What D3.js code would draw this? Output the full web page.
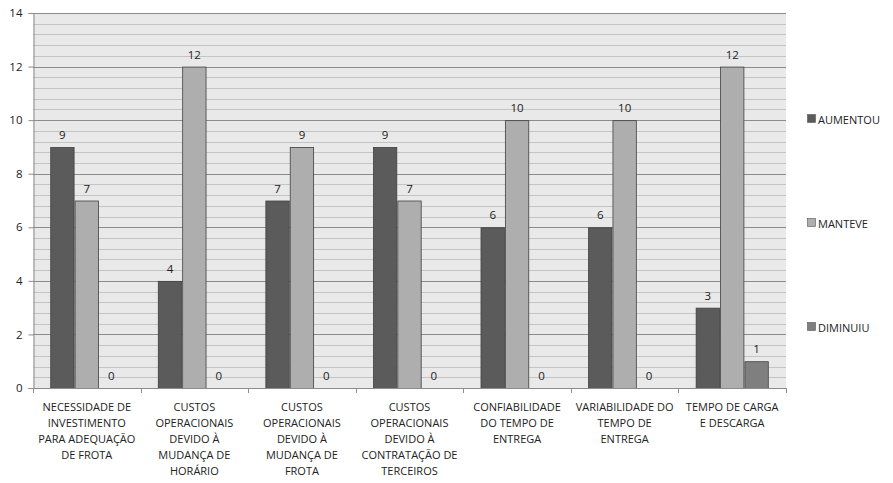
<!DOCTYPE html>
<html><head><meta charset="utf-8">
<script src="https://cdn.jsdelivr.net/npm/d3@7/dist/d3.min.js"></script>
<style>
body{margin:0;background:#fff;}
text{font-family:"Open Sans","DejaVu Sans",sans-serif;fill:#222;}
</style></head>
<body><svg id="c" width="893" height="483"></svg>
<script>
const categories = [
  ["NECESSIDADE DE","INVESTIMENTO","PARA ADEQUAÇÃO","DE FROTA"],
  ["CUSTOS","OPERACIONAIS","DEVIDO À","MUDANÇA DE","HORÁRIO"],
  ["CUSTOS","OPERACIONAIS","DEVIDO À","MUDANÇA DE","FROTA"],
  ["CUSTOS","OPERACIONAIS","DEVIDO À","CONTRATAÇÃO DE","TERCEIROS"],
  ["CONFIABILIDADE","DO TEMPO DE","ENTREGA"],
  ["VARIABILIDADE DO","TEMPO DE","ENTREGA"],
  ["TEMPO DE CARGA","E DESCARGA"]
];
const seriesNames = ["AUMENTOU","MANTEVE","DIMINUIU"];
const aumentou = [9,4,7,9,6,6,3];
const manteve  = [7,12,9,7,10,10,12];
const diminuiu = [0,0,0,0,0,0,1];
const yTicks = [0,2,4,6,8,10,12,14];
const colors = ["#5b5b5b","#aeaeae","#7f7f7f"];

const series = [aumentou, manteve, diminuiu];
const svg = d3.select("#c");
const L=33, R=786, T=13, B=388;
const x = d3.scaleBand().domain(d3.range(categories.length)).range([L,R]).paddingInner(0).paddingOuter(0);
const y = d3.scaleLinear().domain([0,14]).range([B,T]);
const bw = x.bandwidth()*0.68;
const xs = d3.scaleBand().domain(d3.range(3)).range([0,bw]);

svg.append("rect").attr("x",L).attr("y",T).attr("width",R-L).attr("height",B-T).attr("fill","#e9e9e9");
const minor = d3.range(0,14.001,0.4);
svg.append("g").selectAll("line").data(minor).join("line")
  .attr("x1",L).attr("x2",R).attr("y1",d=>Math.round(y(d))+0.5).attr("y2",d=>Math.round(y(d))+0.5)
  .attr("stroke","#c4c4c4").attr("stroke-width",1);
svg.append("g").selectAll("line").data(yTicks).join("line")
  .attr("x1",L).attr("x2",R).attr("y1",d=>Math.round(y(d))+0.5).attr("y2",d=>Math.round(y(d))+0.5)
  .attr("stroke","#8c8c8c").attr("stroke-width",1);

const g = svg.append("g");
categories.forEach((c,i)=>{
  const x0 = x(i) + (x.bandwidth()-bw)/2;
  series.forEach((s,j)=>{
    const v = s[i];
    const bx = x0 + xs(j);
    if (v>0) g.append("rect").attr("x",bx+0.5).attr("y",y(v)+0.5).attr("width",xs.bandwidth()-1).attr("height",y(0)-y(v))
      .attr("fill",colors[j]).attr("stroke","#404040").attr("stroke-width",0.8);
    g.append("text").attr("x",bx+xs.bandwidth()/2).attr("y",y(v)-8).attr("text-anchor","middle")
      .attr("font-size",11.5).text(v);
  });
});

const ya = d3.axisLeft(y).tickValues(yTicks).tickSize(5).tickPadding(6);
svg.append("g").attr("transform",`translate(${L+0.5},0)`).call(ya)
  .call(g=>g.select(".domain").attr("stroke","#8c8c8c"))
  .call(g=>g.selectAll(".tick line").attr("stroke","#8c8c8c"))
  .call(g=>g.selectAll(".tick text").attr("font-size",11.5).attr("fill","#222").attr("font-family","'Open Sans',sans-serif"));
svg.append("line").attr("x1",L).attr("x2",R).attr("y1",B+0.5).attr("y2",B+0.5).attr("stroke","#8c8c8c");
svg.append("g").selectAll("line").data(d3.range(categories.length+1)).join("line")
  .attr("x1",d=>Math.round(L+d*x.step())+0.5).attr("x2",d=>Math.round(L+d*x.step())+0.5)
  .attr("y1",B).attr("y2",B+5).attr("stroke","#8c8c8c");

categories.forEach((c,i)=>{
  const t = svg.append("text").attr("text-anchor","middle").attr("font-size",11);
  c.forEach((line,k)=>{
    t.append("tspan").attr("x",x(i)+x.bandwidth()/2).attr("y",411+k*16).text(line);
  });
});

const ly = [119,223,327];
seriesNames.forEach((n,j)=>{
  svg.append("rect").attr("x",807.5).attr("y",ly[j]-4.5).attr("width",8).attr("height",8)
    .attr("fill",colors[j]).attr("stroke","#555").attr("stroke-width",0.6);
  svg.append("text").attr("x",818).attr("y",ly[j]+4.5).attr("font-size",11).text(n);
});
</script></body></html>
